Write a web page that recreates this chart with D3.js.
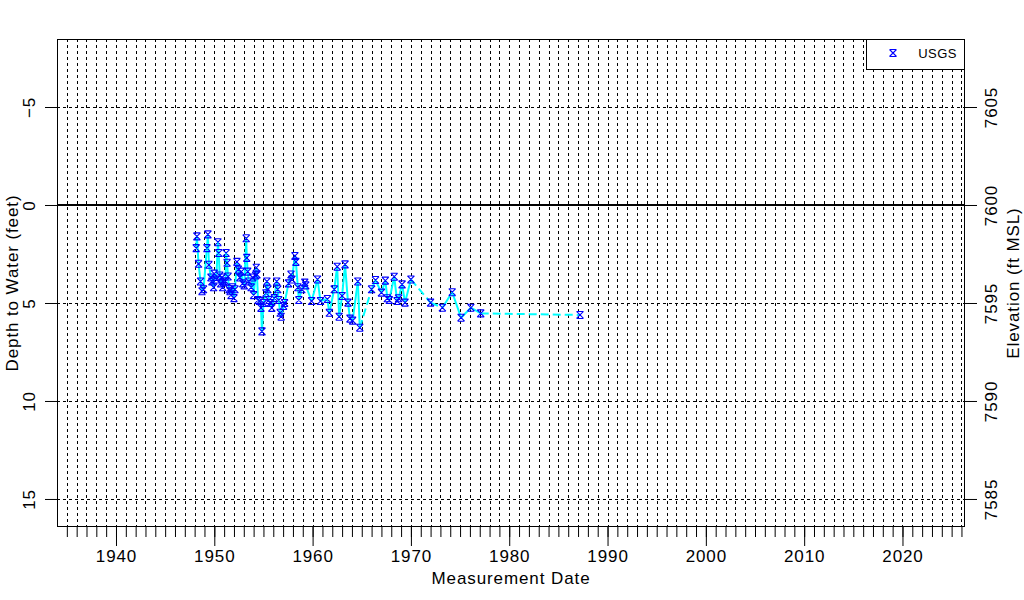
<!DOCTYPE html>
<html>
<head>
<meta charset="utf-8">
<script src="https://cdn.jsdelivr.net/npm/d3@7"></script>
<style>
  html, body { margin: 0; padding: 0; background: #fff; }
  svg { display: block; }
  text { font-family: "Liberation Sans", Arial, sans-serif; fill: #000; }
</style>
</head>
<body>
<svg id="chart" width="1024" height="600"></svg>
<script>
// ---- Data (decimal year, depth to water in feet) ----
const years = [
  1948.16, 1948.23, 1948.40, 1948.60, 1948.75, 1948.90,
  1949.25, 1949.35, 1949.45, 1949.66, 1949.76, 1949.93, 1949.99,
  1950.20, 1950.37, 1950.45, 1950.55, 1950.65, 1950.78, 1950.85, 1950.95,
  1951.15, 1951.20, 1951.30, 1951.40, 1951.50, 1951.60, 1951.70, 1951.85,
  1952.00, 1952.10, 1952.30, 1952.45, 1952.60, 1952.75, 1952.90, 1953.05,
  1953.25, 1953.30, 1953.40, 1953.50, 1953.75, 1953.90, 1954.00,
  1954.20, 1954.27, 1954.34, 1954.45, 1954.60, 1954.75, 1954.85, 1955.00,
  1955.25, 1955.35, 1955.45, 1955.55, 1955.70, 1955.85, 1956.10,
  1956.35, 1956.45, 1956.55, 1956.70, 1956.80, 1957.05, 1957.15,
  1957.55, 1957.80, 1957.90, 1958.20, 1958.30, 1958.50, 1958.60,
  1958.90, 1959.20, 1959.30, 1959.90, 1960.50, 1960.80, 1961.50, 1961.70,
  1962.20, 1962.50, 1962.70, 1963.00, 1963.30, 1963.60, 1963.80, 1964.07,
  1964.60, 1964.80, 1966.00, 1966.40, 1967.00, 1967.40, 1967.60, 1967.80,
  1968.30, 1968.60, 1968.75, 1969.10, 1969.40, 1970.00, 1972.00, 1973.20,
  1974.20, 1975.10, 1976.10, 1977.10, 1987.20
];
const depths = [
  2.20, 1.60, 3.00, 3.90, 4.40, 4.30,
  2.20, 1.50, 3.05, 3.70, 3.90, 4.20, 3.50,
  3.80, 1.90, 2.45, 3.60, 4.00, 3.70, 4.20, 3.90,
  3.90, 2.45, 2.95, 3.65, 4.30, 4.40, 4.60, 4.20,
  4.75, 4.30, 2.90, 3.30, 3.70, 3.40, 4.00, 4.10,
  1.70, 2.70, 3.40, 3.90, 4.20, 3.70, 4.60,
  3.60, 3.20, 3.55, 4.85, 4.90, 5.25, 6.45, 5.00,
  4.50, 3.90, 4.30, 4.85, 5.00, 5.25, 4.75,
  3.90, 4.30, 4.85, 5.50, 5.70, 5.15, 5.00,
  4.00, 3.55, 3.80, 2.60, 2.90, 4.20, 4.85,
  4.30, 3.96, 4.10, 4.90, 3.80, 4.90, 4.80, 5.50,
  4.30, 3.15, 5.70, 4.64, 3.03, 4.98, 5.80, 5.90,
  3.90, 6.26, 4.30, 3.83, 4.47, 3.86, 4.76, 4.85,
  3.66, 4.90, 4.76, 4.05, 4.98, 3.80, 4.98, 5.24,
  4.45, 5.75, 5.24, 5.53, 5.61
];
const depthTicks = [-5, 0, 5, 10, 15];
const elevTicks = [7605, 7600, 7595, 7590, 7585];
const landSurface = 7600;
const yearLabels = [1940, 1950, 1960, 1970, 1980, 1990, 2000, 2010, 2020];
const seriesName = "USGS";

// ---- Layout ----
const svg = d3.select("#chart");
const L = 57, R = 965, T = 39, B = 527;
const x = d3.scaleLinear().domain([1934.0, 2026.36]).range([L, R]);
const y = d3.scaleLinear().domain([-8.47, 16.43]).range([T, B]);
const yElev = d3.scaleLinear().domain([landSurface + 8.47, landSurface - 16.43]).range([T, B]);

const data = years.map((yr, i) => ({ t: yr, d: depths[i] }));
const minorYears = d3.range(1935, 2027);

const fontSize = 17;
const spacing = "0.9px";

// Vertical dashed gridlines every year
svg.append("g").selectAll("line").data(minorYears).join("line")
  .attr("x1", d => Math.round(x(d)) + 0.5).attr("x2", d => Math.round(x(d)) + 0.5)
  .attr("y1", T).attr("y2", B)
  .attr("stroke", "#000").attr("stroke-width", 1).attr("stroke-dasharray", "3,3");

// Horizontal dashed gridlines
svg.append("g").selectAll("line").data(depthTicks.filter(d => d !== 0)).join("line")
  .attr("x1", L).attr("x2", R)
  .attr("y1", d => Math.round(y(d)) + 0.5).attr("y2", d => Math.round(y(d)) + 0.5)
  .attr("stroke", "#000").attr("stroke-width", 1).attr("stroke-dasharray", "3,3");

// Zero line (land surface)
svg.append("line").attr("x1", L).attr("x2", R)
  .attr("y1", y(0)).attr("y2", y(0))
  .attr("stroke", "#000").attr("stroke-width", 2);

// Connecting lines: solid for short gaps, dashed for long gaps
const segs = d3.pairs(data);
svg.append("g").selectAll("line").data(segs).join("line")
  .attr("x1", d => x(d[0].t)).attr("y1", d => y(d[0].d))
  .attr("x2", d => x(d[1].t)).attr("y2", d => y(d[1].d))
  .attr("stroke", "#00ffff").attr("stroke-width", 2)
  .attr("stroke-dasharray", d => (d[1].t - d[0].t) > 1.15 ? "8,4" : null);

// Markers (x with top/bottom bars)
const h = 3.5;
const markerPath = `M${-h},${-h}L${h},${-h}M${-h},${h}L${h},${h}M${-h},${-h}L${h},${h}M${h},${-h}L${-h},${h}`;
svg.append("g").selectAll("path").data(data).join("path")
  .attr("transform", d => `translate(${x(d.t)},${y(d.d)})`)
  .attr("d", markerPath)
  .attr("fill", "none").attr("stroke", "#0000ff").attr("stroke-width", 1.1);

// Plot frame
svg.append("rect").attr("x", L + 0.5).attr("y", T + 0.5)
  .attr("width", R - L - 1).attr("height", B - T - 1)
  .attr("fill", "none").attr("stroke", "#000").attr("stroke-width", 1);

// Bottom axis: minor ticks every year, major every 10 years
const bottom = svg.append("g").attr("transform", `translate(0,${B})`);
bottom.call(d3.axisBottom(x).tickValues(minorYears).tickSize(10).tickFormat(""))
  .call(g => g.select(".domain").remove());
bottom.selectAll(".tick line").attr("stroke", "#000");
const bottomMajor = svg.append("g").attr("transform", `translate(0,${B})`);
bottomMajor.call(d3.axisBottom(x).tickValues(yearLabels).tickSize(19).tickPadding(4).tickFormat(d3.format("d")))
  .call(g => g.select(".domain").remove());
bottomMajor.selectAll("text").attr("font-size", fontSize).attr("letter-spacing", spacing)
  .attr("font-family", "Liberation Sans, Arial, sans-serif").attr("fill", "#000");

// Left axis (depth)
const left = svg.append("g").attr("transform", `translate(${L},0)`);
left.call(d3.axisLeft(y).tickValues(depthTicks).tickSize(12).tickFormat(d => d < 0 ? "\u2212" + Math.abs(d) : d))
  .call(g => g.select(".domain").remove());
left.selectAll("text")
  .attr("x", null).attr("dy", null)
  .attr("transform", "translate(-22,0) rotate(-90)")
  .attr("text-anchor", "middle").attr("dominant-baseline", "auto")
  .attr("font-size", fontSize).attr("letter-spacing", spacing)
  .attr("font-family", "Liberation Sans, Arial, sans-serif").attr("fill", "#000");

// Right axis (elevation)
const right = svg.append("g").attr("transform", `translate(${R},0)`);
right.call(d3.axisRight(yElev).tickValues(elevTicks).tickSize(12).tickFormat(d3.format("d")))
  .call(g => g.select(".domain").remove());
right.selectAll("text")
  .attr("x", null).attr("dy", null)
  .attr("transform", "translate(32,0) rotate(-90)")
  .attr("text-anchor", "middle").attr("dominant-baseline", "auto")
  .attr("font-size", fontSize).attr("letter-spacing", spacing)
  .attr("font-family", "Liberation Sans, Arial, sans-serif").attr("fill", "#000");

// Axis titles
svg.append("text").attr("transform", `translate(18,${(T + B) / 2}) rotate(-90)`)
  .attr("text-anchor", "middle").attr("font-size", fontSize).attr("letter-spacing", spacing)
  .text("Depth to Water (feet)");
svg.append("text").attr("transform", `translate(1019,${(T + B) / 2}) rotate(-90)`)
  .attr("text-anchor", "middle").attr("font-size", fontSize).attr("letter-spacing", spacing)
  .text("Elevation (ft MSL)");
svg.append("text").attr("x", (L + R) / 2).attr("y", 584)
  .attr("text-anchor", "middle").attr("font-size", fontSize).attr("letter-spacing", spacing)
  .text("Measurement Date");

// Legend
const lg = svg.append("g");
lg.append("rect").attr("x", 866.5).attr("y", T + 0.5).attr("width", R - 866 - 1).attr("height", 30)
  .attr("fill", "#fff").attr("stroke", "#000").attr("stroke-width", 1);
lg.append("path").attr("transform", "translate(893,53)").attr("d", markerPath)
  .attr("fill", "none").attr("stroke", "#0000ff").attr("stroke-width", 1.1);
lg.append("text").attr("x", 957).attr("y", 58).attr("text-anchor", "end")
  .attr("font-size", 13).attr("letter-spacing", "0.5px").text(seriesName);
</script>
</body>
</html>
